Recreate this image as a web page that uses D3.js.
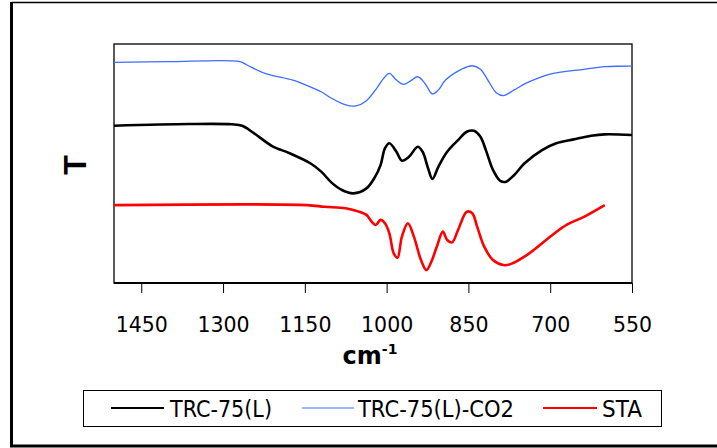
<!DOCTYPE html>
<html><head><meta charset="utf-8">
<script src="https://cdn.jsdelivr.net/npm/d3@7/dist/d3.min.js"></script>
<style>body{margin:0;background:#fff}svg{display:block}</style>
</head><body><svg id="c" width="717" height="448"></svg>
<script>
// ---- data ----
const seriesNames = ["TRC-75(L)", "TRC-75(L)-CO2", "STA"];
const xTicks = [1450, 1300, 1150, 1000, 850, 700, 550];

const blackWn = [1500,1362,1284,1265,1243,1210,1178,1140,1120,1101,1082,1061,1037,1021,1011,1003,995,982,972,959,943,934,924,916,905,889,869,853,840,828,818,805,792,782,766,747,715,689,657,625,600,550];
const blackT  = [65.8,66.5,66.4,65.8,62.6,57.3,54.3,50.1,46.6,42.0,38.9,37.5,39.6,44.5,49.4,56.4,58.5,54.9,51.2,52.8,57.0,54.9,48.0,43.5,48.7,54.9,59.8,63.3,63.7,61.2,55.6,47.3,42.8,42.3,45.2,50.1,55.6,58.5,60.1,61.6,62.2,61.9];

const blueWn = [1500,1401,1269,1256,1223,1172,1140,1120,1101,1075,1056,1037,1018,1008,995,982,969,956,943,930,916,905,892,863,843,828,811,799,786,766,744,702,638,600,550];
const blueT  = [92.3,92.6,92.6,91.2,87.7,84.9,82.1,80.0,77.3,74.5,74.1,76.3,81.5,84.9,87.7,84.9,83.1,84.6,86.3,83.6,79.1,80.8,84.9,89.4,90.9,89.4,83.6,79.6,78.4,80.8,83.6,87.3,89.4,90.5,90.8];

const redWn = [1500,1146,1114,1075,1050,1037,1027,1020,1011,1003,995,987,980,972,961,950,937,927,918,908,897,889,880,869,853,843,834,821,805,786,773,741,696,670,638,600];
const redT  = [32.6,32.6,31.9,31.3,29.8,28.5,25.6,24.3,26.4,25.0,20.8,12.4,10.6,19.4,25.0,19.4,9.6,5.4,8.9,15.2,21.5,18.0,17.0,22.2,29.8,29.2,23.6,15.2,9.6,7.5,7.9,12.0,20.1,24.3,27.7,32.6];

const seriesColors = ["#000000", "#3b6dff", "#ff0000"];
const seriesWidths = [2.6, 1.3, 2.6];

// ---- layout ----
const svg = d3.select("#c");
const L = 114, R = 632, T = 44, B = 283;
const x = d3.scaleLinear().domain([1500, 550]).range([L, R]);
const y = d3.scaleLinear().domain([0, 100]).range([B, T]);

// outer frame
svg.append("line").attr("x1", 11.5).attr("x2", 717).attr("y1", 2.5).attr("y2", 2.5).attr("stroke", "#000").attr("stroke-width", 1.5);
svg.append("line").attr("x1", 11.5).attr("x2", 11.5).attr("y1", 2).attr("y2", 447).attr("stroke", "#000").attr("stroke-width", 3);
svg.append("line").attr("x1", 10).attr("x2", 717).attr("y1", 446).attr("y2", 446).attr("stroke", "#000").attr("stroke-width", 3);

// plot frame
svg.append("rect").attr("x", L).attr("y", T).attr("width", R - L).attr("height", B - T)
  .attr("fill", "none").attr("stroke", "#000").attr("stroke-width", 1.3);

// x axis
const ax = svg.append("g").attr("transform", `translate(0,${B})`)
  .call(d3.axisBottom(x).tickValues(xTicks).tickSize(10).tickSizeOuter(0).tickFormat(d3.format("d")));
ax.select(".domain").attr("stroke", "#000").attr("stroke-width", 2.2).attr("d", `M${L},0H${R}`);
ax.selectAll(".tick line").attr("stroke", "#000").attr("stroke-width", 1);
ax.selectAll(".tick text").attr("y", 49).attr("dy", null)
  .attr("font-family", "DejaVu Sans, sans-serif").attr("font-size", 20.5).attr("fill", "#000");

// axis titles
const xt = svg.append("text").attr("x", 370).attr("y", 364).attr("text-anchor", "middle")
  .attr("font-family", "DejaVu Sans, sans-serif").attr("font-weight", "bold").attr("font-size", 24).attr("fill", "#000");
xt.append("tspan").text("cm");
xt.append("tspan").attr("font-size", 14).attr("dy", -10).text("-1");

svg.append("text").attr("transform", "translate(86,165) rotate(-90)").attr("text-anchor", "middle")
  .attr("font-family", "Liberation Sans, Arial, sans-serif").attr("font-weight", "bold").attr("font-size", 32).attr("fill", "#000").text("T");

// series
const series = [
  {name: seriesNames[0], wn: blackWn, t: blackT},
  {name: seriesNames[1], wn: blueWn, t: blueT},
  {name: seriesNames[2], wn: redWn, t: redT}
];
const line = d3.line().x(d => x(d[0])).y(d => y(d[1])).curve(d3.curveCatmullRom.alpha(0.5));
series.forEach((s, i) => {
  svg.append("path").datum(s.wn.map((w, k) => [w, s.t[k]]))
    .attr("d", line).attr("fill", "none").attr("stroke", seriesColors[i])
    .attr("stroke-width", seriesWidths[i]).attr("stroke-linejoin", "round");
});

// legend
svg.append("rect").attr("x", 83.5).attr("y", 390.5).attr("width", 578).attr("height", 36)
  .attr("fill", "#fff").attr("stroke", "#000").attr("stroke-width", 1);
const legItems = [
  {x1: 111, x2: 164, tx: 170, tw: 102},
  {x1: 302, x2: 354, tx: 358, tw: 156},
  {x1: 543, x2: 597, tx: 602, tw: 40}
];
legItems.forEach((it, i) => {
  svg.append("line").attr("x1", it.x1).attr("x2", it.x2).attr("y1", 408).attr("y2", 408)
    .attr("stroke", seriesColors[i]).attr("stroke-width", seriesWidths[i] * 0.85);
  svg.append("text").attr("x", it.tx).attr("y", 417).attr("font-family", "DejaVu Sans, sans-serif")
    .attr("font-size", 23).attr("textLength", it.tw).attr("lengthAdjust", "spacingAndGlyphs")
    .attr("fill", "#000").text(seriesNames[i]);
});
</script></body></html>
